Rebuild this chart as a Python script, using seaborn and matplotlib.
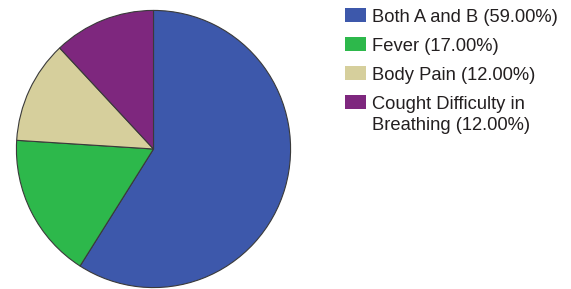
import matplotlib
matplotlib.use("Agg")
import matplotlib.pyplot as plt
import seaborn as sns
from matplotlib.patches import Rectangle

labels = ["Both A and B", "Fever", "Body Pain", "Cought Difficulty in\nBreathing"]
shares = [59.0, 17.0, 12.0, 12.0]
colors = ["#3D58AB", "#2DB84B", "#D6CF9C", "#7E277E"]

sns.set_theme(style="white")
plt.rcParams["font.family"] = ["Liberation Sans", "DejaVu Sans"]

W, H = 571, 289
fig = plt.figure(figsize=(W / 100, H / 100), dpi=100)
ax = fig.add_axes([16 / W, 1 / H, 275 / W, 278 / H])
ax.pie(shares, colors=colors, startangle=90, counterclock=False,
       wedgeprops=dict(edgecolor="#3a3a3a", linewidth=0.8))
ax.set_aspect("auto")
ax.set_xlim(-1.003, 1.003)
ax.set_ylim(-1.003, 1.003)
ax.axis("off")

# legend drawn by hand so the swatch sits on the first line of each label
row_h = 29
for i, (lab, s, c) in enumerate(zip(labels, shares, colors)):
    top = 7.5 + row_h * i
    fig.patches.append(Rectangle((345 / W, 1 - (top + 14.5) / H), 21 / W, 14.5 / H,
                                 transform=fig.transFigure, facecolor=c,
                                 edgecolor="none"))
    lines = f"{lab} ({s:.2f}%)".split("\n")
    for j, line in enumerate(lines):
        base = 21.7 + row_h * i + 21.5 * j
        fig.text(372 / W, 1 - base / H, line, fontsize=13.2, color="#231F20",
                 ha="left", va="baseline")

fig.savefig("out.png", dpi=100)
